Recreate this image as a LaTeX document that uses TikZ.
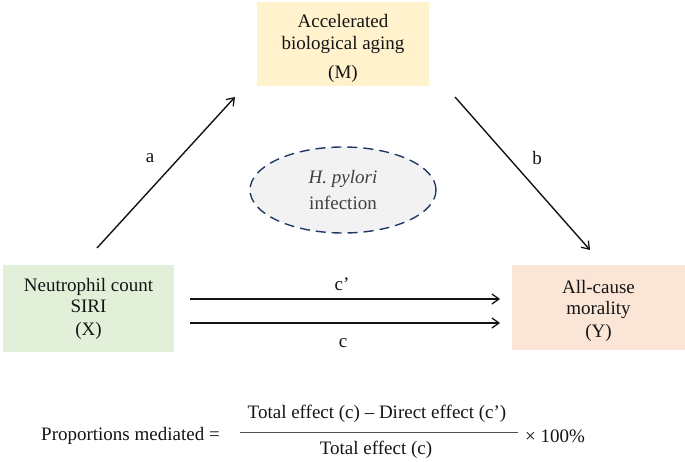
\documentclass[tikz,border=0pt]{standalone}
\usepackage{fontspec}
\setmainfont{Liberation Serif}
\usetikzlibrary{arrows.meta,shapes.geometric}
\definecolor{mfill}{HTML}{FFF2CC}
\definecolor{xfill}{HTML}{E2F0D9}
\definecolor{yfill}{HTML}{FBE5D6}
\definecolor{efill}{HTML}{F2F2F2}
\definecolor{edraw}{HTML}{203864}
\definecolor{txt}{HTML}{141414}
\definecolor{etxt}{HTML}{404040}
\tikzset{
  varbox/.style={draw=none, inner sep=0pt, align=center, text=txt,
    font=\fontsize{19}{21}\selectfont},
  lbl/.style={text=txt, font=\fontsize{19}{21}\selectfont, inner sep=0pt},
  arr/.style={-{Straight Barb[length=7pt,width=10pt,line width=1.3pt]}, line width=1.4pt, txt},
}
\begin{document}
\begin{tikzpicture}[x=1pt,y=-1pt]
\useasboundingbox (0,0) rectangle (685,462);
% boxes
\node[varbox, fill=mfill, minimum width=172pt, minimum height=84pt, text depth=0pt] (M) at (343,44) {};
\node[varbox] (Mt) at (343,48) {Accelerated\\[1pt] biological aging\\[8pt] (M)};
\node[varbox, fill=xfill, minimum width=171pt, minimum height=87pt] (X) at (88.5,308.5) {};
\node[varbox] (Xt) at (88.5,309) {Neutrophil count\\ SIRI\\[2pt] (X)};
\node[varbox, fill=yfill, minimum width=173pt, minimum height=85pt] (Y) at (598.5,307.5) {};
\node[varbox] (Yt) at (598.5,310.5) {All-cause\\ morality\\[2pt] (Y)};
% moderator ellipse
\node[ellipse, draw=edraw, fill=efill, line width=1.4pt, dash pattern=on 10pt off 6pt,
  minimum width=186pt, minimum height=86pt, inner sep=0pt, align=center, text=etxt,
  font=\fontsize{19}{26}\selectfont] (H) at (343,190) {\textit{H. pylori}\\ infection};
% connector ends
\coordinate (a0) at (97,248);
\coordinate (a1) at (235,97);
\coordinate (b0) at (455,97);
\coordinate (b1) at (590,250);
\coordinate (cp0) at (190,299);
\coordinate (cp1) at (500,299);
\coordinate (c0) at (190,323);
\coordinate (c1) at (500,323);
\draw[arr] (a0) -- (a1);
\draw[arr] (b0) -- (b1);
\draw[arr] (cp0) -- (cp1);
\draw[arr] (c0) -- (c1);
% labels
\node[lbl] (la) at (150,158) {a};
\node[lbl] (lb) at (537,158) {b};
\node[lbl] (lcp) at (342,284) {c’};
\node[lbl] (lc) at (343,343) {c};
% formula
\node[lbl, anchor=west] (pm) at (41,436) {Proportions mediated =};
\coordinate (f0) at (240,432);
\coordinate (f1) at (518,432);
\draw[line width=1pt, txt!75] (f0) -- (f1);
\node[lbl] (num) at (377,414) {Total effect (c) – Direct effect (c’)};
\node[lbl] (den) at (376,450) {Total effect (c)};
\node[lbl, anchor=west] (pct) at (525,436) {× 100\%};
\end{tikzpicture}
\end{document}
